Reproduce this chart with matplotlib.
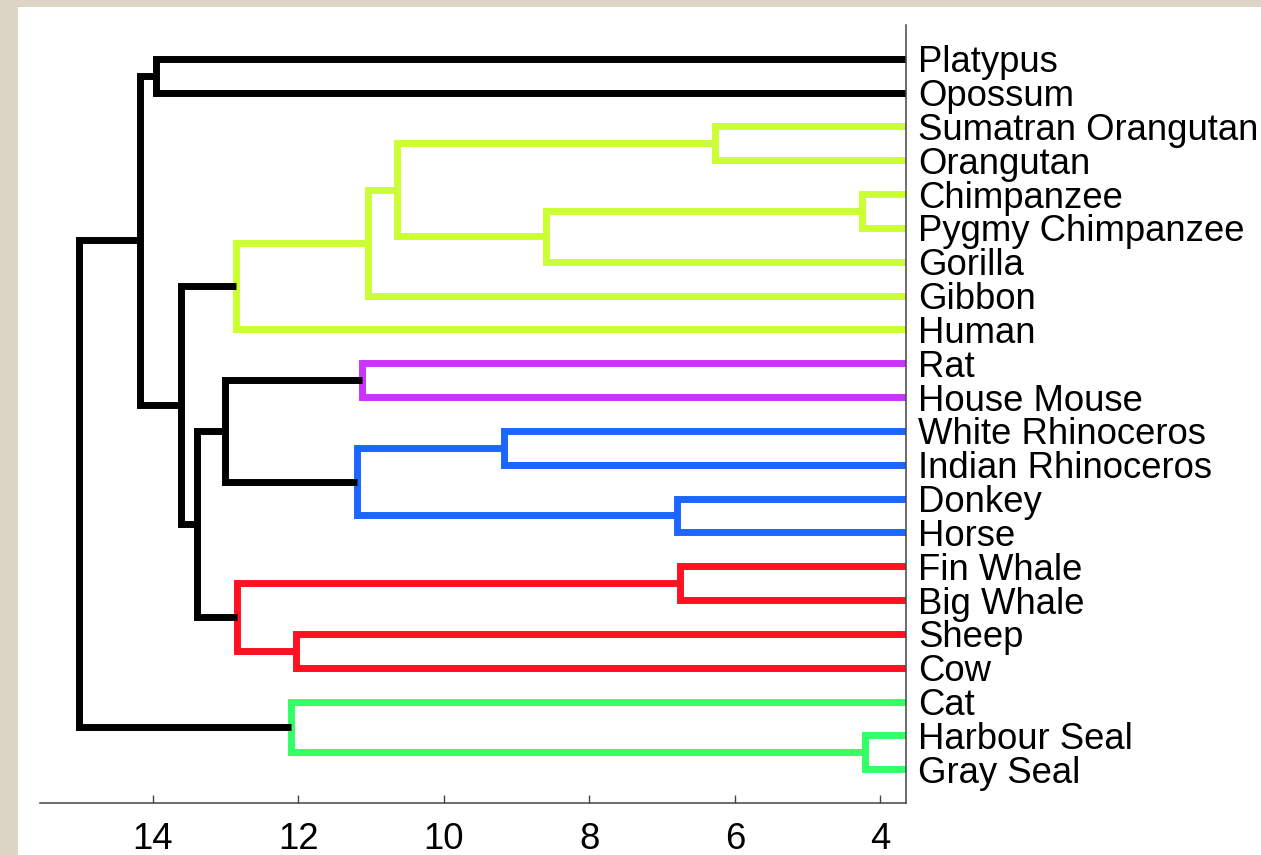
import matplotlib
matplotlib.use('Agg')
import matplotlib.pyplot as plt
from matplotlib.patches import Rectangle

plt.rcParams['font.family'] = ['Liberation Sans', 'DejaVu Sans']

# Leaves, top to bottom
leaf_labels = ["Platypus", "Opossum", "Sumatran Orangutan", "Orangutan",
               "Chimpanzee", "Pygmy Chimpanzee", "Gorilla", "Gibbon", "Human",
               "Rat", "House Mouse", "White Rhinoceros", "Indian Rhinoceros",
               "Donkey", "Horse", "Fin Whale", "Big Whale", "Sheep", "Cow",
               "Cat", "Harbour Seal", "Gray Seal"]

# Merges (children are leaf names or "m<k>" references to earlier merges)
merge_left = ["Harbour Seal", "Chimpanzee", "Sumatran Orangutan", "Fin Whale",
              "Donkey", "m1", "White Rhinoceros", "m2", "m7", "Rat", "m6",
              "Sheep", "Cat", "m3", "m8", "m9", "m15", "m14", "Platypus",
              "m18", "m19"]
merge_right = ["Gray Seal", "Pygmy Chimpanzee", "Orangutan", "Big Whale",
               "Horse", "Gorilla", "Indian Rhinoceros", "m5", "Gibbon",
               "House Mouse", "m4", "Cow", "m0", "m11", "Human", "m10", "m13",
               "m16", "Opossum", "m17", "m12"]
merge_height = [4.21, 4.25, 6.28, 6.76, 6.79, 8.60, 9.17, 10.65, 11.05, 11.12,
                11.19, 12.04, 12.10, 12.85, 12.86, 13.01, 13.40, 13.62, 13.96,
                14.18, 15.02]
merge_group = ["carnivore", "primate", "primate", "cetruminant", "perisso",
               "primate", "perisso", "primate", "primate", "rodent", "perisso",
               "cetruminant", "carnivore", "cetruminant", "primate", "none",
               "none", "none", "none", "none", "none"]

group_colors = {"primate": "#ccff33", "rodent": "#cc33ff", "perisso": "#1a66ff",
                "cetruminant": "#ff1122", "carnivore": "#33ff66", "none": "black"}

x_ticks = [14, 12, 10, 8, 6, 4]

W, H = 1261, 855
fig = plt.figure(figsize=(W / 100, H / 100), dpi=100, facecolor='#ddd5c6')
fig.add_artist(Rectangle((18 / W, 0), 1, 1 - 7 / H, transform=fig.transFigure,
                         facecolor='white', edgecolor='none', zorder=-10))

ax = fig.add_axes([40 / W, 1 - 803 / H, (906 - 40) / W, (803 - 25) / H])
ax.set_facecolor('white')

n = len(leaf_labels)
pos = {name: (0.0, float(n - i)) for i, name in enumerate(leaf_labels)}

for k, (a, b, h, g) in enumerate(zip(merge_left, merge_right, merge_height, merge_group)):
    xa, ya = pos[a]
    xb, yb = pos[b]
    ax.plot([xa, h, h, xb], [ya, ya, yb, yb], color=group_colors[g], lw=5,
            solid_joinstyle='miter', solid_capstyle='butt')
    pos["m%d" % k] = (h, (ya + yb) / 2)

ax.set_xlim(15.554, 3.647)
ax.set_ylim(0, n + 1)

ax.set_yticks([n - i for i in range(n)])
ax.set_yticklabels(leaf_labels, fontsize=26.3)
ax.yaxis.tick_right()
ax.tick_params(axis='y', length=0, pad=8.5, labelcolor='black')

ax.set_xticks(x_ticks)
ax.set_xticklabels([str(t) for t in x_ticks], fontsize=26.3)
ax.tick_params(axis='x', direction='in', length=6, width=1, color='#444444', pad=14)

for s in ['left', 'top']:
    ax.spines[s].set_visible(False)
for s in ['right', 'bottom']:
    ax.spines[s].set_color('#444444')
    ax.spines[s].set_linewidth(1.1)

fig.savefig('out.png', dpi=100, facecolor=fig.get_facecolor())
